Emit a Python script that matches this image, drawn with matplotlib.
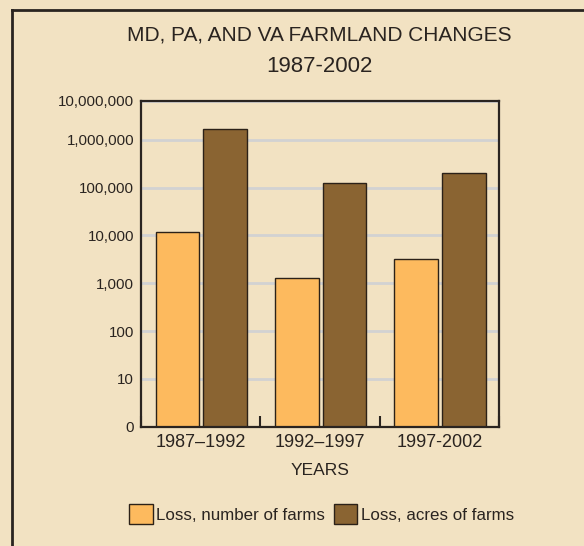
import matplotlib
matplotlib.use("Agg")
import matplotlib.pyplot as plt
from matplotlib.ticker import NullLocator, FixedLocator
from matplotlib.patches import Patch
from matplotlib.lines import Line2D
import numpy as np

periods = ["1987\u20131992", "1992\u20131997", "1997-2002"]
loss_farms = [12000, 1310, 3170]
loss_acres = [1660000, 124000, 203000]
series_names = ["Loss, number of farms", "Loss, acres of farms"]
ytick_vals = [1, 10, 100, 1e3, 1e4, 1e5, 1e6, 10**6.82]
ytick_labels = ["0", "10", "100", "1,000", "10,000", "100,000", "1,000,000", "10,000,000"]

BG = "#F2E2C2"
ORANGE = "#FDBA5E"
BROWN = "#8A6432"
EDGE = "#2B2118"
DARK = "#2A2420"
FONT = ["Liberation Sans", "DejaVu Sans"]

fig = plt.figure(figsize=(5.84, 5.46), dpi=100, facecolor=BG)
ax = fig.add_axes([141/584, 1-426.7/546, 358/584, 326/546])
ax.set_facecolor(BG)
ax.set_yscale("log")

x = np.arange(len(periods))
w = 0.365
ax.bar(x - 0.195, loss_farms, width=w, color=ORANGE, edgecolor=EDGE, linewidth=1.0, zorder=3)
ax.bar(x + 0.205, loss_acres, width=w, color=BROWN, edgecolor=EDGE, linewidth=1.0, zorder=3)

ax.set_xlim(-0.5, 2.5)
ax.set_ylim(1, 10**6.82)
ax.yaxis.set_major_locator(FixedLocator(ytick_vals))
ax.yaxis.set_minor_locator(NullLocator())
ax.set_yticklabels(ytick_labels, fontfamily=FONT, fontsize=10.8, color=DARK)
ax.tick_params(axis="y", length=0, pad=5)
ax.yaxis.grid(True, color="#D2D2D2", linewidth=2, zorder=0)

ax.set_xticks(x)
ax.set_xticklabels(periods, fontfamily=FONT, fontsize=13, color=DARK)
ax.xaxis.set_minor_locator(FixedLocator([-0.5, 0.5, 1.5, 2.5]))
ax.tick_params(axis="x", which="major", length=0, pad=5)
ax.tick_params(axis="x", which="minor", direction="in", length=8, width=1.5, color=DARK)
ax.set_xlabel("YEARS", fontfamily=FONT, fontsize=12.5, color=DARK, labelpad=9)

for s in ax.spines.values():
    s.set_color(DARK)
    s.set_linewidth(1.6)
    s.set_zorder(4)

fig.text(319/584, 1-35/546, "MD, PA, AND VA FARMLAND CHANGES", ha="center", va="center",
         fontfamily=FONT, fontsize=15, color=DARK)
fig.text(319/584, 1-66.7/546, "1987-2002", ha="center", va="center",
         fontfamily=FONT, fontsize=16, color=DARK)

# frame lines
fig.add_artist(Line2D([11.5/584, 11.5/584], [0, 1-10/546], transform=fig.transFigure, color=DARK, lw=2))
fig.add_artist(Line2D([11.5/584, 1], [1-10/546, 1-10/546], transform=fig.transFigure, color=DARK, lw=2))

handles = [Patch(facecolor=ORANGE, edgecolor=EDGE, linewidth=1.0),
           Patch(facecolor=BROWN, edgecolor=EDGE, linewidth=1.0)]
fig.legend(handles, series_names, loc="center", bbox_to_anchor=(321.5/584, 1-514/546), ncol=2,
           frameon=False, handlelength=1.4, handleheight=1.4, handletextpad=0.2,
           columnspacing=0.5, prop={"family": FONT, "size": 12.2}, labelcolor=DARK)

fig.savefig("out.png", dpi=100, facecolor=BG)
